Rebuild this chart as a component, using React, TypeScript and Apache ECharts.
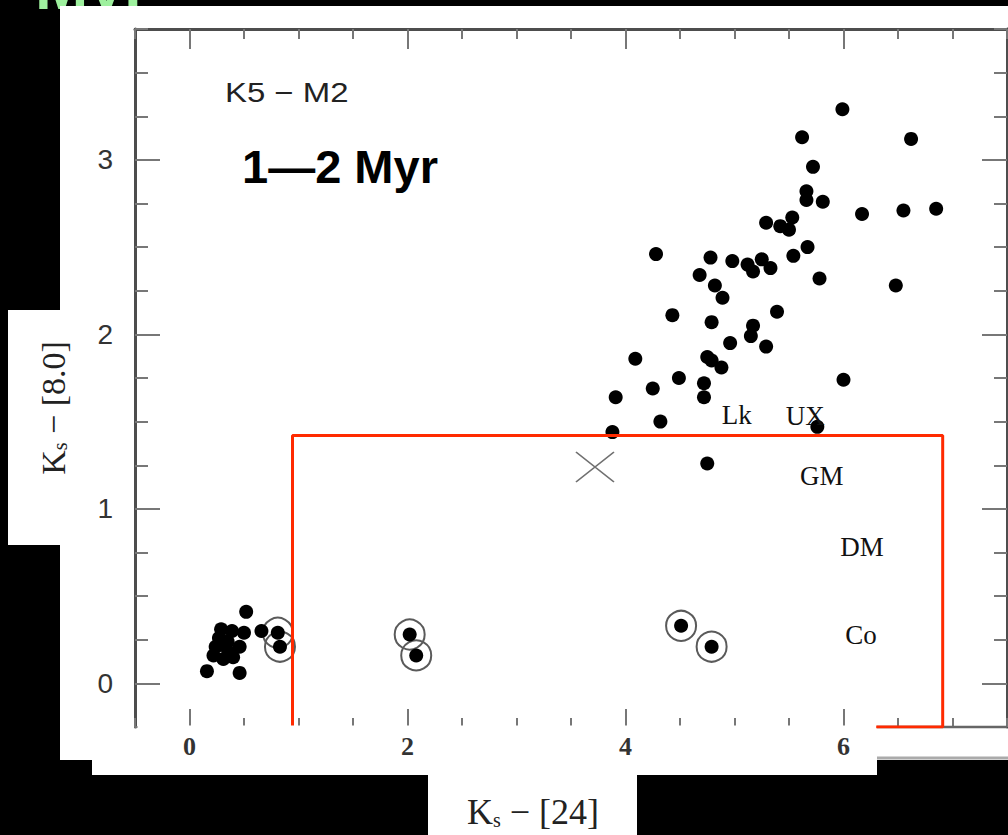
import React, { useEffect, useRef } from 'react';
import * as echarts from 'echarts';

const xTickValues = [0, 2, 4, 6];
const yTickValues = [0, 1, 2, 3];

// filled dots, disk-bearing stars (upper right)
const diskStars: [number, number][] = [
  [5.99, 3.29], [5.62, 3.13], [6.62, 3.12], [5.72, 2.96], [5.66, 2.82], [5.66, 2.77],
  [5.81, 2.76], [6.17, 2.69], [6.55, 2.71], [6.85, 2.72], [5.53, 2.67], [5.29, 2.64],
  [5.42, 2.62], [5.50, 2.60], [5.67, 2.50], [5.54, 2.45], [4.28, 2.46], [4.78, 2.44],
  [4.98, 2.42], [5.12, 2.40], [5.25, 2.43], [5.17, 2.36], [5.33, 2.38], [4.68, 2.34],
  [5.78, 2.32], [6.48, 2.28], [4.82, 2.28], [4.89, 2.21], [4.43, 2.11], [4.79, 2.07],
  [5.39, 2.13], [5.17, 2.05], [5.15, 1.99], [4.96, 1.95], [5.29, 1.93], [4.09, 1.86],
  [4.75, 1.87], [4.79, 1.85], [4.88, 1.81], [6.00, 1.74], [4.49, 1.75], [4.25, 1.69],
  [4.72, 1.72], [3.91, 1.64], [4.72, 1.64], [4.32, 1.50], [3.88, 1.44], [5.76, 1.47],
  [4.75, 1.26],
];

// filled dots, photospheric stars (lower left)
const photoStars: [number, number][] = [
  [0.52, 0.41], [0.66, 0.30], [0.29, 0.31], [0.39, 0.30], [0.50, 0.29], [0.35, 0.24],
  [0.46, 0.21], [0.24, 0.21], [0.22, 0.16], [0.31, 0.14], [0.40, 0.15], [0.16, 0.07],
  [0.46, 0.06], [0.30, 0.22], [0.36, 0.18], [0.27, 0.26],
];

// dots with a ring around them
const circledStars: [number, number][] = [
  [0.81, 0.29], [0.83, 0.21], [2.02, 0.28], [2.08, 0.16], [4.51, 0.33], [4.79, 0.21],
];

const crossStar: [number, number][] = [[3.72, 1.24]];

const regionLabels = ['Lk', 'UX', 'GM', 'DM', 'Co'];
const regionLabelX = [5.02, 5.65, 5.80, 6.17, 6.16];
const regionLabelY = [1.54, 1.53, 1.19, 0.78, 0.28];

const boxOutline: [number, number][] = [
  [0.945, -0.25], [0.945, 1.42], [6.91, 1.42], [6.91, -0.25], [6.30, -0.25],
];

const axisColor = '#4d4d4d';
const tickColor = '#777';

export default function App() {
  const ref = useRef<HTMLDivElement>(null);

  useEffect(() => {
    if (!ref.current) return;
    const chart = echarts.init(ref.current, null, { renderer: 'svg' });

    const tickLine = { color: tickColor, width: 2 };
    const hiddenLine = { show: false, onZero: false, lineStyle: { color: 'rgba(0,0,0,0)', width: 0 } };
    const baseX = { type: 'value', min: -0.5, max: 7.5, splitLine: { show: false } };
    const baseY = { type: 'value', min: -0.25, max: 3.75, splitLine: { show: false } };

    const option: any = {
      animation: false,
      backgroundColor: '#000',
      grid: { left: 135, top: 29, right: 1, bottom: 108, containLabel: false },
      xAxis: [
        {
          ...baseX, interval: 0.5, position: 'bottom',
          axisLine: hiddenLine,
          axisTick: { inside: true, length: 9, lineStyle: tickLine },
          axisLabel: { show: false },
        },
        {
          ...baseX, position: 'bottom',
          axisLine: hiddenLine,
          axisTick: { inside: true, length: 18, customValues: xTickValues, lineStyle: tickLine },
          axisLabel: {
            customValues: xTickValues, margin: 6, fontSize: 26, fontWeight: 'bold',
            fontFamily: 'Liberation Serif', color: '#333',
          },
        },
        {
          ...baseX, interval: 0.5, position: 'top',
          axisLine: { show: true, onZero: false, lineStyle: { color: axisColor, width: 3 } },
          axisTick: { inside: true, length: 10, lineStyle: tickLine },
          axisLabel: { show: false },
        },
        {
          ...baseX, position: 'top',
          axisLine: hiddenLine,
          axisTick: { inside: true, length: 20, customValues: xTickValues, lineStyle: tickLine },
          axisLabel: { show: false },
        },
      ],
      yAxis: [
        {
          ...baseY, interval: 0.25, position: 'left',
          axisLine: { show: true, onZero: false, lineStyle: { color: axisColor, width: 3 } },
          axisTick: { inside: true, length: 13, lineStyle: tickLine },
          axisLabel: { show: false },
        },
        {
          ...baseY, position: 'left',
          axisLine: hiddenLine,
          axisTick: { inside: true, length: 25, customValues: yTickValues, lineStyle: tickLine },
          axisLabel: {
            customValues: yTickValues, margin: 22, fontSize: 28,
            fontFamily: 'Liberation Sans', color: '#333',
          },
        },
        {
          ...baseY, interval: 0.25, position: 'right',
          axisLine: { show: true, onZero: false, lineStyle: { color: axisColor, width: 3 } },
          axisTick: { inside: true, length: 13, lineStyle: tickLine },
          axisLabel: { show: false },
        },
        {
          ...baseY, position: 'right',
          axisLine: hiddenLine,
          axisTick: { inside: true, length: 25, customValues: yTickValues, lineStyle: tickLine },
          axisLabel: { show: false },
        },
      ],
      series: [
        {
          type: 'scatter', name: 'rings', data: circledStars, symbol: 'circle', symbolSize: 30,
          itemStyle: { color: 'rgba(0,0,0,0)', borderColor: '#5a5a5a', borderWidth: 2, opacity: 1 },
          silent: true, z: 2,
        },
        {
          type: 'scatter', name: 'dots', data: [...diskStars, ...photoStars, ...circledStars],
          symbol: 'circle', symbolSize: 14, itemStyle: { color: '#000', opacity: 1 }, silent: true, z: 3,
        },
        {
          type: 'scatter', name: 'cross', data: crossStar,
          symbol: 'path://M0,0L10,8M10,0L0,8', symbolSize: [38, 30],
          itemStyle: { color: 'none', borderColor: '#707070', borderWidth: 1.5, opacity: 1 },
          silent: true, z: 3,
        },
        {
          type: 'line', name: 'box', data: boxOutline, symbol: 'none',
          lineStyle: { color: '#ff2a00', width: 3 }, silent: true, z: 5,
        },
        {
          type: 'scatter', name: 'labels',
          data: regionLabels.map((n, i) => ({ name: n, value: [regionLabelX[i], regionLabelY[i]] })),
          symbolSize: 1, itemStyle: { color: 'rgba(0,0,0,0)', opacity: 1 }, silent: true, z: 6,
          label: {
            show: true, position: 'inside', formatter: '{b}', fontSize: 27,
            fontFamily: 'Liberation Serif', color: '#111', opacity: 1,
          },
        },
      ],
      graphic: [
        {
          type: 'text', x: 35, y: 19, z: -20,
          style: {
            text: 'Myr', fontSize: 64, fontWeight: 'bold', fontFamily: 'Liberation Sans',
            fill: '#9ef09e', align: 'left', verticalAlign: 'bottom',
          },
        },
        { type: 'rect', z: -10, shape: { x: 60, y: 6, width: 948, height: 754 }, style: { fill: '#fff' } },
        { type: 'rect', z: -10, shape: { x: 92, y: 759, width: 785, height: 16 }, style: { fill: '#fff' } },
        { type: 'rect', z: -10, shape: { x: 428, y: 774, width: 209, height: 61 }, style: { fill: '#fff' } },
        { type: 'rect', z: -10, shape: { x: 8, y: 310, width: 53, height: 235 }, style: { fill: '#fff' } },
        // overlapping lower scan strip hides the bottom frame line left of x≈877
        { type: 'rect', z: 100, shape: { x: 137.5, y: 725.5, width: 738.5, height: 6 }, style: { fill: '#fff' } },
        {
          type: 'line', z: 1, shape: { x1: 877, y1: 727, x2: 1007, y2: 727 },
          style: { stroke: '#666', lineWidth: 2.5 },
        },
        {
          type: 'line', z: 1, shape: { x1: 877, y1: 758, x2: 1008, y2: 758 },
          style: { stroke: '#aaa', lineWidth: 3 },
        },
        {
          type: 'text', x: 225, y: 93, scaleX: 1.22, z: 10,
          style: {
            text: 'K5 − M2', fontSize: 27, fontFamily: 'Liberation Sans', fill: '#222',
            align: 'left', verticalAlign: 'middle',
          },
        },
        {
          type: 'text', x: 242, y: 166, z: 10,
          style: {
            text: '1—2 Myr', fontSize: 47, fontWeight: 'bold', fontFamily: 'Liberation Sans',
            fill: '#000', align: 'left', verticalAlign: 'middle',
          },
        },
        {
          type: 'text', x: 53, y: 408, rotation: Math.PI / 2, z: 10,
          style: {
            text: '{k|K}{s|s}{k| − [8.0]}', align: 'center', verticalAlign: 'middle',
            rich: {
              k: { fontSize: 34, fontFamily: 'Liberation Serif', fill: '#222', verticalAlign: 'bottom' },
              s: { fontSize: 20, fontFamily: 'Liberation Serif', fill: '#222', verticalAlign: 'bottom' },
            },
          },
        },
        {
          type: 'text', x: 533, y: 812, z: 10,
          style: {
            text: '{k|K}{s|s}{k| − [24]}', align: 'center', verticalAlign: 'middle',
            rich: {
              k: { fontSize: 36, fontFamily: 'Liberation Serif', fill: '#222', verticalAlign: 'bottom' },
              s: { fontSize: 20, fontFamily: 'Liberation Serif', fill: '#222', verticalAlign: 'bottom' },
            },
          },
        },
      ],
    };

    chart.setOption(option);
    return () => chart.dispose();
  }, []);

  return (
    <div
      ref={ref}
      style={{ position: 'fixed', left: 0, top: 0, width: 1008, height: 835 }}
    />
  );
}
